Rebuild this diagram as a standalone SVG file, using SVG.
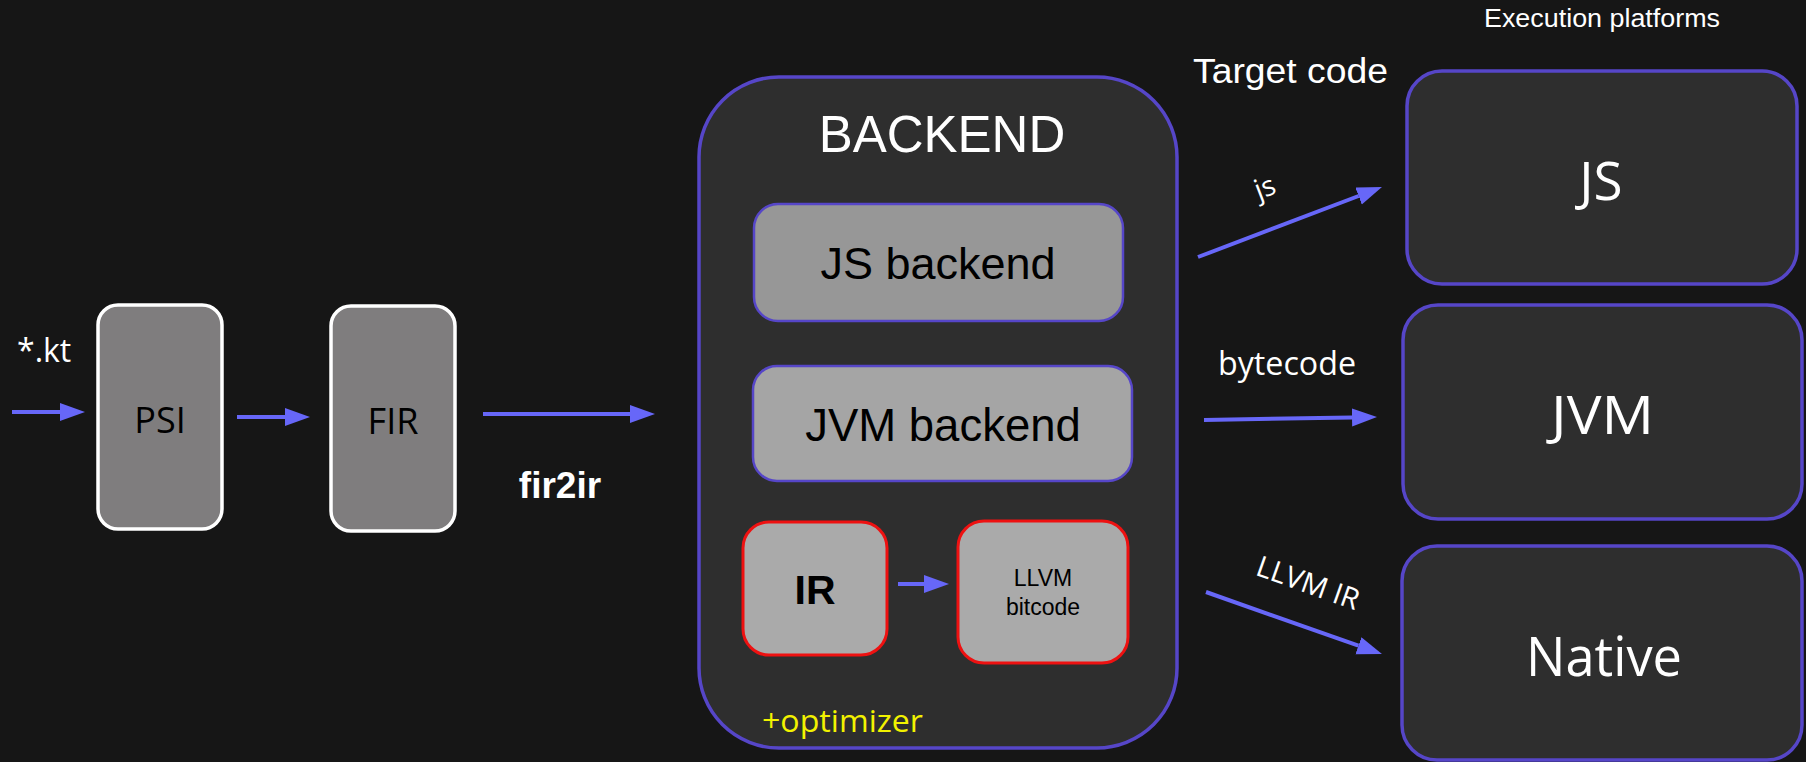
<svg xmlns="http://www.w3.org/2000/svg" width="1806" height="762" viewBox="0 0 1806 762">
<defs>
<style>
.seg{font-family:"Open Sans","Noto Sans",sans-serif;}
.ari{font-family:"Liberation Sans",Arial,sans-serif;}
.conn{stroke:#6767f8;stroke-width:4;fill:none;marker-end:url(#ah);}
.pbox{fill:#2e2e2e;stroke:#5646c8;stroke-width:3.5;}
.wbox{fill:#7f7d7e;stroke:#ffffff;stroke-width:3.5;}
.rbox{fill:#aaaaaa;stroke:#ee1111;stroke-width:3;}
</style>
<marker id="ah" markerUnits="userSpaceOnUse" markerWidth="26" markerHeight="20" refX="0" refY="9" orient="auto">
<path d="M0,0 L25,9 L0,18 z" fill="#6767f8"/>
</marker>
</defs>
<rect x="0" y="0" width="1806" height="762" fill="#161616"/>

<text class="ari" x="1484" y="27" font-size="25" fill="#ffffff" textLength="236" lengthAdjust="spacingAndGlyphs">Execution platforms</text>
<text class="ari" x="1193" y="83" font-size="35" fill="#ffffff" textLength="195" lengthAdjust="spacingAndGlyphs">Target code</text>
<text class="seg" x="17" y="362" font-size="32" fill="#ffffff">*.kt</text>
<text class="ari" x="560" y="498" font-size="37" font-weight="bold" fill="#ffffff" text-anchor="middle">fir2ir</text>

<g id="psi">
<rect class="wbox" x="98" y="305" width="124" height="224" rx="20"/>
<text class="seg" x="160" y="433" font-size="36" fill="#000000" text-anchor="middle">PSI</text>
</g>
<g id="fir">
<rect class="wbox" x="331" y="306" width="124" height="225" rx="20"/>
<text class="seg" x="393" y="434" font-size="36" fill="#000000" text-anchor="middle">FIR</text>
</g>

<g id="backend">
<rect class="pbox" x="699" y="77" width="478" height="671" rx="80"/>
<text class="ari" x="942" y="152" font-size="51" fill="#ffffff" text-anchor="middle">BACKEND</text>
<text class="seg" x="762" y="732" font-size="31" fill="#f2f200" textLength="161" lengthAdjust="spacingAndGlyphs">+optimizer</text>
</g>
<g id="js-backend">
<rect x="754" y="204" width="369" height="117" rx="24" fill="#979797" stroke="#5646c8" stroke-width="2.5"/>
<text class="ari" x="938" y="279" font-size="45" fill="#000000" text-anchor="middle">JS backend</text>
</g>
<g id="jvm-backend">
<rect x="753" y="366" width="379" height="115" rx="24" fill="#a5a5a5" stroke="#5646c8" stroke-width="2.5"/>
<text class="ari" x="943" y="441" font-size="45.5" fill="#000000" text-anchor="middle">JVM backend</text>
</g>
<g id="ir">
<rect class="rbox" x="743" y="522" width="144" height="133" rx="26"/>
<text class="ari" x="815" y="604" font-size="41" font-weight="bold" fill="#000000" text-anchor="middle">IR</text>
</g>
<g id="llvm-bitcode">
<rect class="rbox" x="958" y="521" width="170" height="142" rx="26"/>
<text class="ari" x="1043" y="586" font-size="23" fill="#000000" text-anchor="middle">LLVM</text>
<text class="ari" x="1043" y="615" font-size="23" fill="#000000" text-anchor="middle">bitcode</text>
</g>

<g id="js">
<rect class="pbox" x="1407" y="71" width="390" height="213" rx="35"/>
<text class="seg" x="1601" y="200" font-size="53" fill="#ffffff" text-anchor="middle">JS</text>
</g>
<g id="jvm">
<rect class="pbox" x="1403" y="305" width="399" height="214" rx="35"/>
<text class="seg" x="1602.5" y="434" font-size="53" fill="#ffffff" text-anchor="middle" textLength="103" lengthAdjust="spacingAndGlyphs">JVM</text>
</g>
<g id="native">
<rect class="pbox" x="1402" y="546" width="400" height="214" rx="35"/>
<text class="seg" x="1604" y="676" font-size="54" fill="#ffffff" text-anchor="middle" textLength="156" lengthAdjust="spacingAndGlyphs">Native</text>
</g>

<g id="connectors">
<line class="conn" x1="12" y1="412" x2="60" y2="412"/>
<line class="conn" x1="237" y1="417" x2="285" y2="417"/>
<line class="conn" x1="483" y1="414" x2="630" y2="414"/>
<line class="conn" x1="898" y1="584" x2="924" y2="584"/>
<line class="conn" x1="1198" y1="257" x2="1358.6" y2="196"/>
<line class="conn" x1="1204" y1="420" x2="1352" y2="417.4"/>
<line class="conn" x1="1206" y1="592" x2="1358.4" y2="645.7"/>
<text class="seg" x="1265" y="197" font-size="28" fill="#ffffff" text-anchor="middle" transform="rotate(-21 1265 188)">js</text>
<text class="seg" x="1287" y="375" font-size="32" fill="#ffffff" text-anchor="middle" textLength="138" lengthAdjust="spacingAndGlyphs">bytecode</text>
<text class="seg" x="1308" y="593" font-size="29" fill="#ffffff" text-anchor="middle" transform="rotate(19.5 1308 583)">LLVM IR</text>
</g>
</svg>
